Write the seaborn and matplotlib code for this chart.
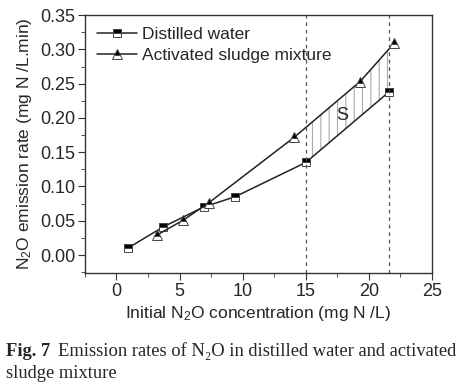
import numpy as np
import pandas as pd
import seaborn as sns
import matplotlib.pyplot as plt
from matplotlib.ticker import MultipleLocator

# Data
water_x = [0.9, 3.7, 6.9, 9.4, 15.0, 21.6]
water_y = [0.010, 0.041, 0.070, 0.085, 0.135, 0.238]
sludge_x = [3.2, 5.3, 7.3, 14.1, 19.3, 22.0]
sludge_y = [0.029, 0.051, 0.076, 0.172, 0.253, 0.309]
region = [15.0, 21.6]

df = pd.concat([
    pd.DataFrame({'x': water_x, 'y': water_y, 'series': 'Distilled water'}),
    pd.DataFrame({'x': sludge_x, 'y': sludge_y, 'series': 'Activated sludge mixture'}),
])

sns.set_style('ticks')
plt.rcParams['font.family'] = ['Liberation Sans', 'DejaVu Sans']
plt.rcParams['mathtext.fontset'] = 'custom'
plt.rcParams['mathtext.rm'] = 'Liberation Sans'
plt.rcParams['mathtext.it'] = 'Liberation Sans:italic'

fig = plt.figure(figsize=(4.64, 3.87), dpi=100)
ax = fig.add_axes([0.183, 0.295, 0.748, 0.666])

markers = {'Distilled water': 's', 'Activated sludge mixture': '^'}
sizes = {'Distilled water': 5.8, 'Activated sludge mixture': 6.5}
for name, sub in df.groupby('series', sort=False):
    sns.lineplot(data=sub, x='x', y='y', ax=ax, color='#222222', lw=1.1,
                 marker=markers[name], markersize=sizes[name], fillstyle='top',
                 markerfacecolor='black', markerfacecoloralt='white',
                 markeredgecolor='#444444', markeredgewidth=0.7, label=name,
                 estimator=None, sort=False)

# hatched area between the curves
xs = np.linspace(region[0], region[1], 100)
lo = np.interp(xs, water_x, water_y)
hi = np.interp(xs, sludge_x, sludge_y)
plt.rcParams['hatch.linewidth'] = 0.8
ax.fill_between(xs, lo, hi, facecolor='none', edgecolor='#aaaaaa', hatch='||', lw=0)

for xv in region:
    ax.axvline(xv, color='#555555', ls='--', lw=0.9, dashes=(3, 3))

ax.text(17.9, 0.204, 'S', fontsize=13, ha='center', va='center')

ax.set_xlim(-2.5, 25)
ax.set_ylim(-0.026, 0.35)
ax.xaxis.set_major_locator(MultipleLocator(5))
ax.xaxis.set_minor_locator(MultipleLocator(2.5))
ax.yaxis.set_major_locator(MultipleLocator(0.05))
ax.yaxis.set_minor_locator(MultipleLocator(0.025))
ax.yaxis.set_major_formatter(plt.FuncFormatter(lambda v, p: f'{v:.2f}'))
ax.tick_params(which='major', direction='out', length=5, labelsize=13, color='#333333', pad=2)
ax.tick_params(which='minor', direction='out', length=3, color='#333333')
for s in ax.spines.values():
    s.set_color('#333333')
    s.set_linewidth(1.0)

ax.set_xlabel('Initial N$_2$O concentration (mg N /L)', fontsize=12.5, labelpad=3)
ax.set_ylabel('N$_2$O emission rate (mg N /L.min)', fontsize=12.5, labelpad=4)

ax.legend(loc='upper left', frameon=False, fontsize=12.5, handlelength=2.3,
          handletextpad=0.3, borderaxespad=0.3, labelspacing=0.3)

serif = ['Liberation Serif', 'DejaVu Serif']
t1 = fig.text(0.013, 0.08, 'Fig. 7', fontsize=13.3, weight='bold', family=serif)
fig.canvas.draw()
bb = t1.get_window_extent()
fig.text((bb.x1 + 8) / fig.bbox.width, 0.08,
         'Emission rates of N\u2082O in distilled water and activated',
         fontsize=13.3, family=serif)
fig.text(0.013, 0.022, 'sludge mixture', fontsize=13.3, family=serif)

fig.savefig('out.png', dpi=100)
